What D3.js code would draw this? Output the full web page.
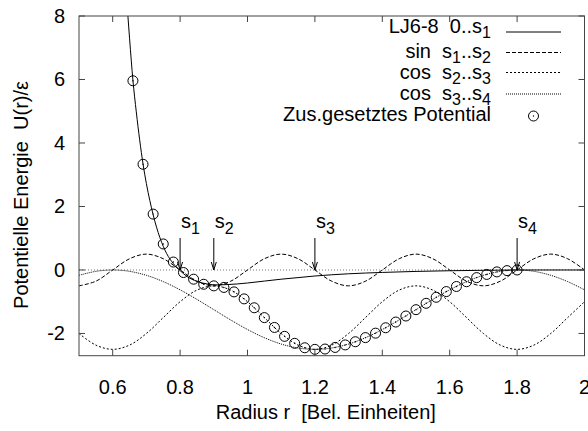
<!DOCTYPE html>
<html><head><meta charset="utf-8">
<script src="https://cdn.jsdelivr.net/npm/d3@7"></script>
<style>
body{margin:0;background:#fff}
text{font-family:"Liberation Sans",Arial,Helvetica,sans-serif;fill:#000;white-space:pre}
</style>
</head><body>
<svg id="c" width="588" height="431"></svg>
<script>
// ---------- data ----------
const rGrid = [0.50,0.55,0.60,0.65,0.70,0.75,0.80,0.85,0.90,0.95,1.00,1.05,1.10,1.15,1.20,1.25,1.30,1.35,1.40,1.45,1.50,1.55,1.60,1.65,1.70,1.75,1.80,1.85,1.90,1.95,2.00];
const sinVals = [-0.5,-0.354,0,0.354,0.5,0.354,0,-0.354,-0.5,-0.354,0,0.354,0.5,0.354,0,-0.354,-0.5,-0.354,0,0.354,0.5,0.354,0,-0.354,-0.5,-0.354,0,0.354,0.5,0.354,0];
const cosAVals = [-2.0,-2.366,-2.5,-2.366,-2.0,-1.5,-1.0,-0.634,-0.5,-0.634,-1.0,-1.5,-2.0,-2.366,-2.5,-2.366,-2.0,-1.5,-1.0,-0.634,-0.5,-0.634,-1.0,-1.5,-2.0,-2.366,-2.5,-2.366,-2.0,-1.5,-1.0];
const cosBVals = [-0.168,-0.043,0,-0.043,-0.168,-0.366,-0.625,-0.927,-1.25,-1.574,-1.875,-2.134,-2.333,-2.457,-2.5,-2.457,-2.333,-2.134,-1.875,-1.574,-1.25,-0.927,-0.625,-0.366,-0.168,-0.043,0,-0.043,-0.168,-0.366,-0.625];

const ljR = [0.63,0.64,0.65,0.66,0.67,0.68,0.69,0.70,0.72,0.74,0.76,0.78,0.80,0.82,0.85,0.88,0.91,0.94,0.97,1.00,1.05,1.10,1.15,1.20,1.30,1.40,1.50,1.60,1.70,1.80,1.90,2.00];
const ljU = [10.6,8.8,7.3,5.98,4.98,4.1,3.34,2.72,1.74,1.02,0.52,0.2,-0.02,-0.2,-0.36,-0.44,-0.47,-0.46,-0.44,-0.41,-0.35,-0.29,-0.24,-0.19,-0.12,-0.077,-0.045,-0.024,-0.01,0,0,0];

const compR = [0.66,0.69,0.72,0.75,0.78,0.81,0.84,0.87,0.90,0.93,0.96,0.99,1.02,1.05,1.08,1.11,1.14,1.17,1.20,1.23,1.26,1.29,1.32,1.35,1.38,1.41,1.44,1.47,1.50,1.53,1.56,1.59,1.62,1.65,1.68,1.71,1.74,1.77,1.80];
const compU = [5.96,3.33,1.76,0.82,0.25,-0.08,-0.29,-0.45,-0.50,-0.55,-0.69,-0.91,-1.19,-1.50,-1.81,-2.09,-2.31,-2.45,-2.50,-2.49,-2.44,-2.36,-2.26,-2.13,-1.99,-1.82,-1.64,-1.45,-1.25,-1.05,-0.86,-0.68,-0.52,-0.37,-0.24,-0.14,-0.06,-0.02,0.00];

const xTicks = [0.6,0.8,1.0,1.2,1.4,1.6,1.8,2.0];
const xTickLabels = ["0.6","0.8","1","1.2","1.4","1.6","1.8","2"];
const yTicks = [-2,0,2,4,6,8];
const markerR = [0.8,0.9,1.2,1.8];
const markerSub = ["1","2","3","4"];

const legendRows = [
  {parts:[["LJ6-8  0..s",0],["1",1]], dash:null},
  {parts:[["sin  s",0],["1",1],["..s",0],["2",1]], dash:"4,2"},
  {parts:[["cos  s",0],["2",1],["..s",0],["3",1]], dash:"2,2"},
  {parts:[["cos  s",0],["3",1],["..s",0],["4",1]], dash:"1,1"},
  {parts:[["Zus.gesetztes Potential",0]], point:true}
];

// ---------- layout ----------
const svg = d3.select("#c");
const L = 79, R = 584.5, T = 16, B = 355.7;
const x = d3.scaleLinear().domain([0.5, 2.0]).range([L, R]);
const y = d3.scaleLinear().domain([-2.7, 8]).range([B, T]);
const FS = 20;

svg.append("defs").append("clipPath").attr("id","clip")
  .append("rect").attr("x",L).attr("y",T).attr("width",R-L).attr("height",B-T);

const plot = svg.append("g").attr("clip-path","url(#clip)");

// zero axis
plot.append("line").attr("x1",L).attr("x2",R).attr("y1",y(0)).attr("y2",y(0))
  .attr("stroke","#777").attr("stroke-width",1).attr("stroke-dasharray","1,2");

const gridLine = d3.line().x(d=>x(d[0])).y(d=>y(d[1])).curve(d3.curveCatmullRom.alpha(0.5));
function pts(xs, ys){ return xs.map((v,i)=>[v, ys[i]]); }

plot.append("path").attr("d", gridLine(pts(rGrid, sinVals)))
  .attr("fill","none").attr("stroke","#000").attr("stroke-width",1).attr("stroke-dasharray","4,2");
plot.append("path").attr("d", gridLine(pts(rGrid, cosAVals)))
  .attr("fill","none").attr("stroke","#000").attr("stroke-width",1).attr("stroke-dasharray","2,2");
plot.append("path").attr("d", gridLine(pts(rGrid, cosBVals)))
  .attr("fill","none").attr("stroke","#000").attr("stroke-width",1).attr("stroke-dasharray","1,1");

const ljLine = d3.line().x(d=>x(d[0])).y(d=>y(d[1])).curve(d3.curveMonotoneX);
plot.append("path").attr("d", ljLine(pts(ljR, ljU)))
  .attr("fill","none").attr("stroke","#000").attr("stroke-width",1);

// composite points
const cp = plot.append("g");
pts(compR, compU).forEach(d=>{
  cp.append("circle").attr("cx",x(d[0])).attr("cy",y(d[1])).attr("r",5)
    .attr("fill","none").attr("stroke","#000").attr("stroke-width",1);
  cp.append("circle").attr("cx",x(d[0])).attr("cy",y(d[1])).attr("r",0.7).attr("fill","#000");
});

// border
svg.append("rect").attr("x",L).attr("y",T).attr("width",R-L).attr("height",B-T)
  .attr("fill","none").attr("stroke","#444").attr("stroke-width",1);

// ticks
const tk = 6;
const tg = svg.append("g").attr("stroke","#444").attr("stroke-width",1);
xTicks.forEach(v=>{
  tg.append("line").attr("x1",x(v)).attr("x2",x(v)).attr("y1",B).attr("y2",B-tk);
  tg.append("line").attr("x1",x(v)).attr("x2",x(v)).attr("y1",T).attr("y2",T+tk);
});
yTicks.forEach(v=>{
  tg.append("line").attr("x1",L).attr("x2",L+tk).attr("y1",y(v)).attr("y2",y(v));
  tg.append("line").attr("x1",R).attr("x2",R-tk).attr("y1",y(v)).attr("y2",y(v));
});
xTicks.forEach((v,i)=>{
  svg.append("text").attr("x",x(v)).attr("y",394).attr("text-anchor","middle")
    .attr("font-size",FS).text(xTickLabels[i]);
});
yTicks.forEach(v=>{
  svg.append("text").attr("x",65).attr("y",y(v)+7).attr("text-anchor","end")
    .attr("font-size",FS).text(String(v));
});

// axis labels
svg.append("text").attr("x",(L+R)/2 - 6).attr("y",419).attr("text-anchor","middle")
  .attr("font-size",FS).text("Radius r  [Bel. Einheiten]");
svg.append("text").attr("transform","translate(28,195) rotate(-90)").attr("text-anchor","middle")
  .attr("font-size",FS).text("Potentielle Energie  U(r)/\u03B5");

// arrows s1..s4
markerR.forEach((v,i)=>{
  const xx = x(v), y0 = 238, y1 = y(0);
  svg.append("line").attr("x1",xx).attr("x2",xx).attr("y1",y0).attr("y2",y1)
    .attr("stroke","#000").attr("stroke-width",1);
  svg.append("path").attr("d",`M${xx-2.5},${y1-8}L${xx},${y1}L${xx+2.5},${y1-8}`)
    .attr("fill","none").attr("stroke","#000").attr("stroke-width",1);
  const t = svg.append("text").attr("x",xx+1).attr("y",228).attr("font-size",FS);
  t.append("tspan").text("s");
  t.append("tspan").attr("dy",6).attr("font-size",FS*0.8).text(markerSub[i]);
});

// legend
const legTextX = 491, sx1 = 506, sx2 = 561;
const rowY = [32, 52.5, 72.5, 94, 116];
const rowBase = [33, 58, 79, 100, 121];
legendRows.forEach((row,i)=>{
  const yy = rowY[i];
  const t = svg.append("text").attr("x",legTextX).attr("y",rowBase[i]).attr("text-anchor","end").attr("font-size",FS);
  let cur = 0;
  row.parts.forEach(p=>{
    const ts = t.append("tspan").text(p[0]);
    if (p[1] && cur===0){ ts.attr("dy",5).attr("font-size",FS*0.8); cur=1; }
    else if (!p[1] && cur===1){ ts.attr("dy",-5); cur=0; }
    else if (p[1]) ts.attr("font-size",FS*0.8);
  });
  if (row.point){
    svg.append("circle").attr("cx",(sx1+sx2)/2).attr("cy",yy).attr("r",5)
      .attr("fill","none").attr("stroke","#000").attr("stroke-width",1);
    svg.append("circle").attr("cx",(sx1+sx2)/2).attr("cy",yy).attr("r",0.7).attr("fill","#000");
  } else {
    const ln = svg.append("line").attr("x1",sx1).attr("x2",sx2).attr("y1",yy).attr("y2",yy)
      .attr("stroke","#000").attr("stroke-width",1);
    if (row.dash) ln.attr("stroke-dasharray",row.dash);
  }
});
</script>
</body></html>
